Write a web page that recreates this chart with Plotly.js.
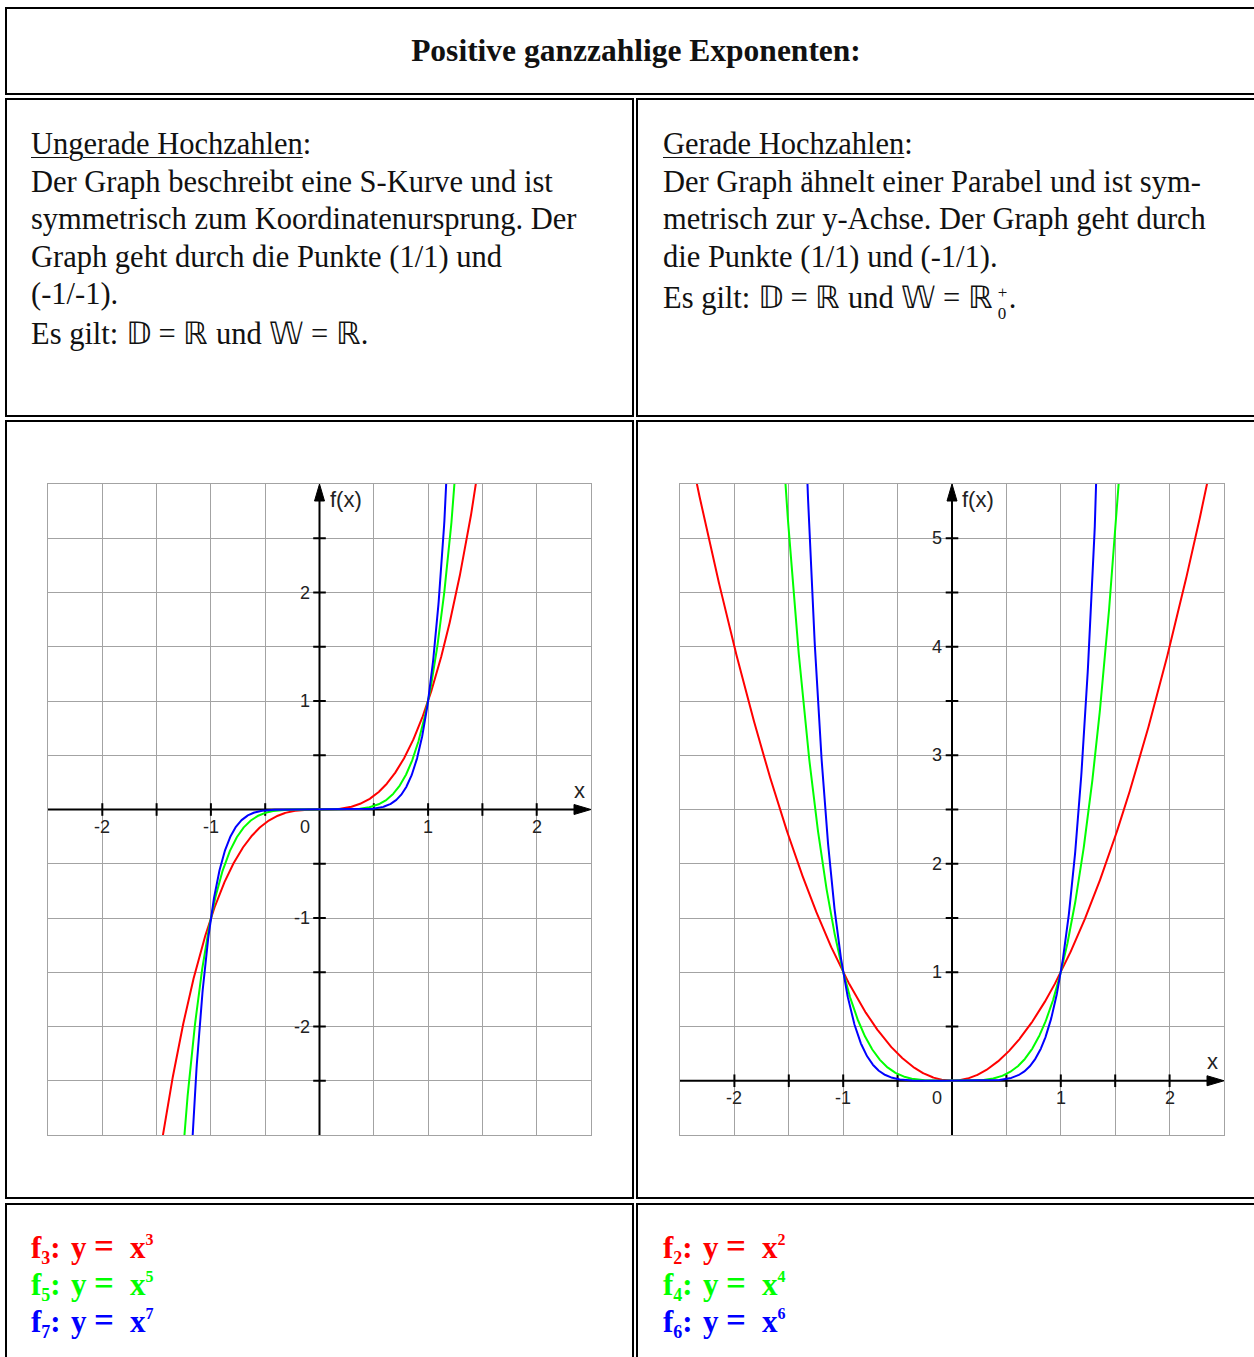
<!DOCTYPE html>
<html>
<head>
<meta charset="utf-8">
<script src="https://cdn.plot.ly/plotly-3.0.1.min.js"></script>
<style>
  body { margin:0; width:1254px; height:1357px; overflow:hidden; background:#fff; position:relative;
         font-family:"Liberation Serif","Times New Roman",serif; color:#111; }
  .cell { position:absolute; border:2px solid #000; box-sizing:border-box; }
  .title { position:absolute; left:5px; top:7px; width:1262px; height:88px; display:flex; align-items:center;
           justify-content:center; font-weight:bold; font-size:31.5px; }
  .txt { position:absolute; font-size:30.5px; line-height:37.5px; white-space:nowrap; }
  .u { text-decoration:underline; text-decoration-thickness:1px; text-underline-offset:3px; }
  .stack { display:inline-block; position:relative; width:16px; height:10px; }
  .stack .p { position:absolute; left:5px; top:-14px; font-size:17px; line-height:17px; }
  .stack .z { position:absolute; left:5px; top:7px; font-size:17px; line-height:17px; }
  .f { position:absolute; font-weight:bold; font-size:31px; line-height:37px; white-space:pre; height:37px; }
  .f span.pc { position:absolute; top:0; }
  .f span.eq { font-size:35px; top:-1px; }
  .f sub { font-size:18px; vertical-align:-6px; line-height:0; }
  .f sup { font-size:16px; vertical-align:13px; line-height:0; }
  .plot { position:absolute; }
</style>
</head>
<body>
  <!-- table cells -->
  <div class="cell" style="left:5px; top:7px; width:1262px; height:88px;"></div>
  <div class="cell" style="left:5px; top:98px; width:629px; height:319px;"></div>
  <div class="cell" style="left:636px; top:98px; width:631px; height:319px;"></div>
  <div class="cell" style="left:5px; top:420px; width:629px; height:779px;"></div>
  <div class="cell" style="left:636px; top:420px; width:631px; height:779px;"></div>
  <div class="cell" style="left:5px; top:1203px; width:629px; height:200px;"></div>
  <div class="cell" style="left:636px; top:1203px; width:631px; height:200px;"></div>

  <div class="title">Positive ganzzahlige Exponenten:</div>

  <div class="txt" style="left:31px; top:126px;">
    <span class="u">Ungerade Hochzahlen</span>:<br>
    Der Graph beschreibt eine S-Kurve und ist<br>
    symmetrisch zum Koordinatenursprung. Der<br>
    Graph geht durch die Punkte (1/1) und<br>
    (-1/-1).<br>
    <span style="display:inline-block; margin-top:2px;">Es gilt: 𝔻 = ℝ und 𝕎 = ℝ.</span>
  </div>

  <div class="txt" style="left:663px; top:126px;">
    <span class="u">Gerade Hochzahlen</span>:<br>
    Der Graph ähnelt einer Parabel und ist sym-<br>
    metrisch zur y-Achse. Der Graph geht durch<br>
    die Punkte (1/1) und (-1/1).<br>
    <span style="display:inline-block; margin-top:4px;">Es gilt: 𝔻 = ℝ und 𝕎 = ℝ<span class="stack"><span class="p">+</span><span class="z">0</span></span>.</span>
  </div>

  <div id="plotOdd" class="plot" style="left:28px; top:464px; width:583px; height:691px;"></div>
  <div id="plotEven" class="plot" style="left:660px; top:464px; width:584px; height:691px;"></div>

  <div id="formOdd"></div>
  <div id="formEven"></div>

<script>
// ---- data ----
const oddExponents  = [3, 5, 7];
const evenExponents = [2, 4, 6];
const curveColors   = ['#ff0000', '#00ff00', '#0000ff'];

const oddXRange  = [-2.5, 2.5];
const oddYRange  = [-3, 3];
const evenXRange = [-2.5, 2.5];
const evenYRange = [-0.5, 5.5];

const oddXLabels  = [-2, -1, 1, 2];
const oddYLabels  = [-2, -1, 1, 2];
const evenXLabels = [-2, -1, 1, 2];
const evenYLabels = [1, 2, 3, 4, 5];

const oddXTickMarks  = [-2, -1.5, -1, -0.5, 0.5, 1, 1.5, 2];
const oddYTickMarks  = [-2.5, -2, -1.5, -1, -0.5, 0.5, 1, 1.5, 2, 2.5];
const evenXTickMarks = [-2, -1.5, -1, -0.5, 0.5, 1, 1.5, 2];
const evenYTickMarks = [0.5, 1, 1.5, 2, 2.5, 3, 3.5, 4, 4.5, 5];

// ---- legend formulas: f_n:  y =  x^n ----
function writeFormulas(id, exps, left) {
  const box = document.getElementById(id);
  exps.forEach((n, k) => {
    const d = document.createElement('div');
    d.className = 'f';
    d.style.left = left + 'px';
    d.style.top = (1229 + k * 37) + 'px';
    d.style.color = curveColors[k];
    d.innerHTML =
      '<span class="pc" style="left:0">f<sub>' + n + '</sub>:</span>' +
      '<span class="pc" style="left:40px">y</span>' +
      '<span class="pc eq" style="left:63px">=</span>' +
      '<span class="pc" style="left:99px">x<sup>' + n + '</sup></span>';
    box.appendChild(d);
  });
}
writeFormulas('formOdd', oddExponents, 31);
writeFormulas('formEven', evenExponents, 663);

// ---- charts ----
const tickFont  = { family: 'Liberation Sans, Arial, sans-serif', size: 18, color: '#222' };
const titleFont = { family: 'Liberation Sans, Arial, sans-serif', size: 22, color: '#222' };

function buildChart(divId, exps, xr, yr, xLabels, yLabels, xMarks, yMarks) {
  const traces = [];
  // small crossing tick marks on both axes
  traces.push({
    x: xMarks, y: xMarks.map(() => 0), mode: 'markers', hoverinfo: 'skip', cliponaxis: false,
    marker: { symbol: 'line-ns', size: 9, line: { width: 2, color: '#000' } }
  });
  traces.push({
    x: yMarks.map(() => 0), y: yMarks, mode: 'markers', hoverinfo: 'skip', cliponaxis: false,
    marker: { symbol: 'line-ew', size: 9, line: { width: 2, color: '#000' } }
  });
  // power curves y = x^n
  const xs = [];
  for (let i = 0; i <= 2000; i++) xs.push(xr[0] + (xr[1] - xr[0]) * i / 2000);
  exps.forEach((n, k) => {
    traces.push({
      x: xs, y: xs.map(v => Math.pow(v, n)), mode: 'lines', hoverinfo: 'skip',
      line: { color: curveColors[k], width: 2 }
    });
  });

  const annotations = [];
  xLabels.forEach(v => annotations.push({
    x: v, y: 0, xref: 'x', yref: 'y', text: String(v), showarrow: false,
    xanchor: 'center', yanchor: 'middle', yshift: -17, font: tickFont
  }));
  yLabels.forEach(v => annotations.push({
    x: 0, y: v, xref: 'x', yref: 'y', text: String(v), showarrow: false,
    xanchor: 'right', yanchor: 'middle', xshift: -8, font: tickFont
  }));
  annotations.push({ x: 0, y: 0, xref: 'x', yref: 'y', text: '0', showarrow: false,
    xanchor: 'right', yanchor: 'middle', xshift: -8, yshift: -17, font: tickFont });
  annotations.push({ x: 0, y: yr[1], xref: 'x', yref: 'y', text: 'f(x)', showarrow: false,
    xanchor: 'left', yanchor: 'top', xshift: 8, yshift: -1, font: titleFont });
  annotations.push({ x: xr[1], y: 0, xref: 'x', yref: 'y', text: 'x', showarrow: false,
    xanchor: 'right', yanchor: 'bottom', xshift: -4, yshift: 5, font: titleFont });

  const shapes = [
    { type: 'line', layer: 'between', xref: 'x', yref: 'y', x0: xr[0], x1: xr[1] - 0.08, y0: 0, y1: 0,
      line: { color: '#000', width: 2 } },
    { type: 'line', layer: 'between', xref: 'x', yref: 'y', x0: 0, x1: 0, y0: yr[0], y1: yr[1] - 0.08,
      line: { color: '#000', width: 2 } },
    // arrow heads
    { type: 'path', layer: 'between', xref: 'x', yref: 'y', xsizemode: 'pixel', ysizemode: 'pixel',
      xanchor: xr[1], yanchor: 0, path: 'M0,0 L-17,5 L-17,-5 Z',
      fillcolor: '#000', line: { color: '#000', width: 1 } },
    { type: 'path', layer: 'between', xref: 'x', yref: 'y', xsizemode: 'pixel', ysizemode: 'pixel',
      xanchor: 0, yanchor: yr[1], path: 'M0,0 L-5,-17 L5,-17 Z',
      fillcolor: '#000', line: { color: '#000', width: 1 } }
  ];

  const axisBase = {
    dtick: 0.5, tick0: 0, showgrid: true, gridcolor: '#a3a3a3', gridwidth: 1,
    zeroline: false, showticklabels: false, ticks: '', showline: true, mirror: true,
    linecolor: '#a3a3a3', linewidth: 1, fixedrange: true
  };

  const layout = {
    margin: { l: 20, r: 20, t: 20, b: 20 },
    paper_bgcolor: 'rgba(0,0,0,0)', plot_bgcolor: '#fff',
    showlegend: false,
    xaxis: Object.assign({}, axisBase, { range: xr }),
    yaxis: Object.assign({}, axisBase, { range: yr }),
    annotations: annotations,
    shapes: shapes
  };
  Plotly.newPlot(divId, traces, layout, { staticPlot: true, displayModeBar: false });
}

buildChart('plotOdd', oddExponents, oddXRange, oddYRange, oddXLabels, oddYLabels, oddXTickMarks, oddYTickMarks);
buildChart('plotEven', evenExponents, evenXRange, evenYRange, evenXLabels, evenYLabels, evenXTickMarks, evenYTickMarks);
</script>
</body>
</html>
